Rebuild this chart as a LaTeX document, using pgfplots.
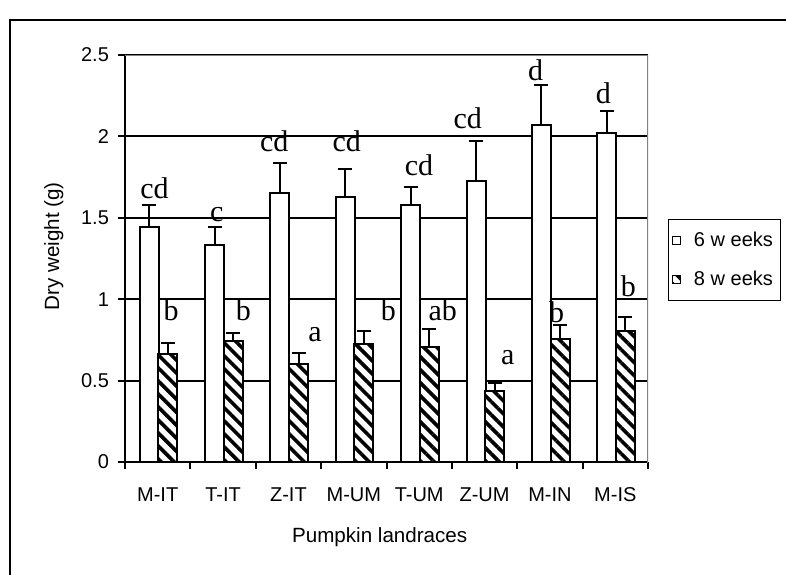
\documentclass[border=0pt]{standalone}
\usepackage{pgfplots}
\pgfplotsset{compat=1.18}
\usepackage{pgfplotstable}
\usepackage{fontspec}
\setmainfont{Liberation Sans}
\newfontfamily\arial{Liberation Sans}
\newfontfamily\timesfont{Liberation Serif}
\usetikzlibrary{patterns.meta}

\pgfplotstableread{
x y e
0 1.445 0.135
1 1.335 0.110
2 1.654 0.184
3 1.630 0.170
4 1.580 0.110
5 1.728 0.246
6 2.070 0.248
7 2.020 0.138
}\sixwk

\pgfplotstableread{
x y e
0 0.663 0.066
1 0.745 0.045
2 0.602 0.069
3 0.725 0.081
4 0.708 0.111
5 0.438 0.049
6 0.757 0.083
7 0.806 0.086
}\eightwk

\begin{document}
\begin{tikzpicture}
\useasboundingbox (-62.5pt,-56pt) rectangle (330.5pt,231pt);
\draw[line width=1pt] (-57.5pt,-58pt) -- (-57.5pt,221pt) -- (333pt,221pt);
\begin{axis}[
  at={(0pt,0pt)}, anchor=south west,
  scale only axis, width=261.5pt, height=203.5pt,
  xmin=-0.5, xmax=7.5, ymin=0, ymax=2.5,
  axis x line*=bottom, axis y line*=left,
  axis line style={line width=1pt, black, -},
  ytick={0,0.5,...,2.5},
  xtick={0,...,7},
  xticklabels={M-IT,T-IT,Z-IT,M-UM,T-UM,Z-UM,M-IN,M-IS},
  minor xtick={-0.5,0.5,...,7.5},
  tick align=outside,
  major tick length=3.5pt, minor tick length=3.5pt,
  tick style={black, line width=1pt},
  major x tick style={draw=none},
  minor x tick style={draw=black, line width=1pt},
  ymajorgrids,
  major grid style={black, line width=1pt},
  /pgf/number format/assume math mode=true,
  ticklabel style={font=\arial\fontsize{10}{12}\selectfont},
  xticklabel style={yshift=-5pt, anchor=north, text height=7.5pt, text depth=0pt},
  yticklabel style={xshift=-1pt},
  xlabel={Pumpkin landraces},
  ylabel={Dry weight (g)},
  label style={font=\arial\fontsize{10.3}{12}\selectfont},
  xlabel style={at={(axis description cs:0.487,0)}, anchor=center, yshift=-37.5pt},
  ylabel style={at={(axis description cs:0,0.53)}, anchor=center, yshift=35.6pt},
  legend style={at={(axis description cs:1.0382,0.597)}, anchor=north west,
    draw=black, line width=0.5pt, font=\arial\fontsize{10}{12}\selectfont,
    row sep=7pt, inner xsep=2pt, inner ysep=4pt},
  legend cell align=left,
  legend image code/.code={\draw[#1, line width=0.5pt] (0pt,-2pt) rectangle (4pt,2pt);
    \pgfpathmoveto{\pgfpoint{8.5pt}{0pt}}\pgfusepath{discard}},
]
\addplot[ybar, bar width=0.29, bar shift=0pt, fill=white, draw=black, line width=1pt,
  error bars/.cd, y dir=plus, y explicit,
  error bar style={line width=1pt, black},
  error mark options={rotate=90, mark size=3.5pt, line width=1pt, black}]
  table[x expr=\thisrow{x}-0.13, y=y, y error=e]{\sixwk};
\addlegendentry{6 w eeks}
\addplot[ybar, bar width=0.29, bar shift=0pt, fill=white, draw=black, line width=1pt,
  postaction={pattern color=black, pattern={Lines[angle=-45,distance=4.6pt,line width=1.8pt]}},
  error bars/.cd, y dir=plus, y explicit,
  error bar style={line width=1pt, black},
  error mark options={rotate=90, mark size=3.5pt, line width=1pt, black}]
  table[x expr=\thisrow{x}+0.155, y=y, y error=e]{\eightwk};
\addlegendentry{8 w eeks}
\draw[gray, line width=1pt] (rel axis cs:0,1) -- (rel axis cs:1,1) -- (rel axis cs:1,0);
\draw[gray, line width=1pt] (rel axis cs:1,0) -- ++(0pt,-3.5pt);
\begin{scope}[every node/.style={font=\timesfont\fontsize{15}{15}\selectfont, inner sep=0pt}]
\node at (axis cs:-0.049,1.683) {cd};
\node at (axis cs:0.204,0.934) {b};
\node at (axis cs:0.903,1.517) {c};
\node at (axis cs:1.310,0.934) {b};
\node at (axis cs:1.784,1.972) {cd};
\node at (axis cs:2.406,0.780) {a};
\node at (axis cs:2.891,1.972) {cd};
\node at (axis cs:3.528,0.934) {b};
\node at (axis cs:3.997,1.824) {cd};
\node at (axis cs:4.360,0.934) {ab};
\node at (axis cs:4.742,2.111) {cd};
\node at (axis cs:5.354,0.639) {a};
\node at (axis cs:5.782,2.404) {d};
\node at (axis cs:6.103,0.923) {b};
\node at (axis cs:6.816,2.265) {d};
\node at (axis cs:7.199,1.077) {b};
\end{scope}
\end{axis}
\end{tikzpicture}
\end{document}
